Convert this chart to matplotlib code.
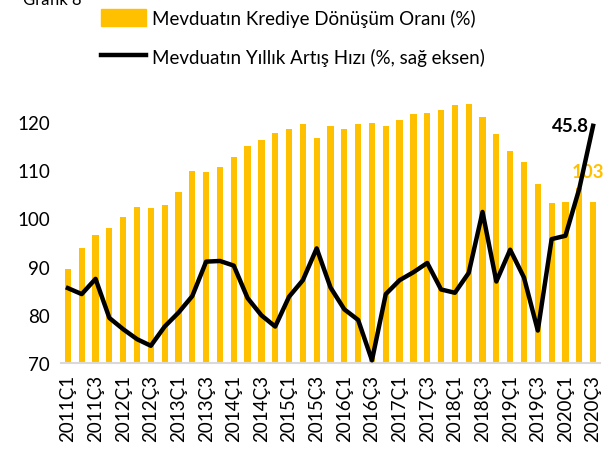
import matplotlib.pyplot as plt
from matplotlib.patches import Patch
from matplotlib.lines import Line2D

# ---------------------------------------------------------------
# Data
# ---------------------------------------------------------------

YEARS = list(range(2011, 2021))
QUARTERS = ["Ç1", "Ç2", "Ç3", "Ç4"]
periods = [f"{y}{q}" for y in YEARS for q in QUARTERS][:39]  # 2011Ç1 .. 2020Ç3

loan_to_deposit = [89.5, 93.9, 96.6, 98.0, 100.3, 102.4, 102.2, 102.8, 105.5, 109.9,
                   109.6, 110.7, 112.7, 115.1, 116.3, 117.8, 118.5, 119.6, 116.7, 119.2,
                   118.5, 119.6, 119.9, 119.2, 120.4, 121.6, 121.9, 122.6, 123.5, 123.8,
                   121.0, 117.5, 114.0, 111.7, 107.1, 103.3, 103.4, 106.3, 103.4]

deposit_growth = [21.3, 20.4, 22.7, 16.8, 15.1, 13.6, 12.6, 15.5, 17.6, 20.1,
                  25.3, 25.4, 24.7, 19.8, 17.2, 15.5, 20.0, 22.5, 27.3, 21.4,
                  18.1, 16.5, 10.4, 20.4, 22.5, 23.7, 25.1, 21.1, 20.6, 23.6,
                  32.8, 22.3, 27.1, 22.9, 14.9, 28.7, 29.2, 36.3, 45.8]

BAR_LABEL = "Mevduatın Krediye Dönüşüm Oranı (%)"
LINE_LABEL = "Mevduatın Yıllık Artış Hızı (%, sağ eksen)"

GOLD = "#FFC000"
FS = 13.5

# ---------------------------------------------------------------
# Plot
# ---------------------------------------------------------------

plt.rcParams['font.family'] = ['Lato', 'DejaVu Sans']

fig = plt.figure(figsize=(6.06, 4.52), dpi=100)
ax = fig.add_axes([61 / 606, 1 - 364 / 452, 539 / 606, 265 / 452])
ax2 = ax.twinx()

x = list(range(len(periods)))
ax.bar(x, loan_to_deposit, width=0.45, color=GOLD, zorder=2)
ax.set_ylim(70, 125)
ax.set_xlim(-0.5, len(periods) - 0.5)
ax.set_yticks([70, 80, 90, 100, 110, 120])
ax.tick_params(axis='y', length=0, labelsize=FS, pad=8)
ax.set_xticks(x[::2])
ax.set_xticklabels(periods[::2], rotation=90, fontsize=FS)
ax.tick_params(axis='x', length=0, pad=8)
for side in ['top', 'right', 'left']:
    ax.spines[side].set_visible(False)
ax.spines['bottom'].set_color('#D9D9D9')
ax.spines['bottom'].set_linewidth(1.5)

ax2.plot(x, deposit_growth, color='black', linewidth=3.2, zorder=3)
ax2.set_ylim(10, 50)
ax2.set_yticks([])
for side in ['top', 'right', 'left', 'bottom']:
    ax2.spines[side].set_visible(False)

# data labels for the last period
ax2.annotate(f"{deposit_growth[-1]:.1f}", (x[-1], deposit_growth[-1]),
             xytext=(-3, 0), textcoords='offset points', ha='right', va='center',
             fontsize=FS, fontweight='bold', color='black')
ax.annotate(f"{loan_to_deposit[-1]:.0f}", (x[-1], loan_to_deposit[-1]),
            xytext=(-4, 22), textcoords='offset points', ha='center', va='center',
            fontsize=FS, fontweight='bold', color=GOLD)

# legend
handles = [Patch(color=GOLD, label=BAR_LABEL),
           Line2D([0], [0], color='black', linewidth=3.2, label=LINE_LABEL)]
fig.legend(handles=handles, loc='upper left', bbox_to_anchor=(84 / 606, 1.015),
           frameon=False, fontsize=FS, handlelength=2.4, handleheight=1.0,
           handletextpad=0.3, labelspacing=1.1)

fig.text(23 / 606, 1.0, "Grafik 8", fontsize=12, va='center', ha='left')

fig.savefig("out.png", dpi=100)
